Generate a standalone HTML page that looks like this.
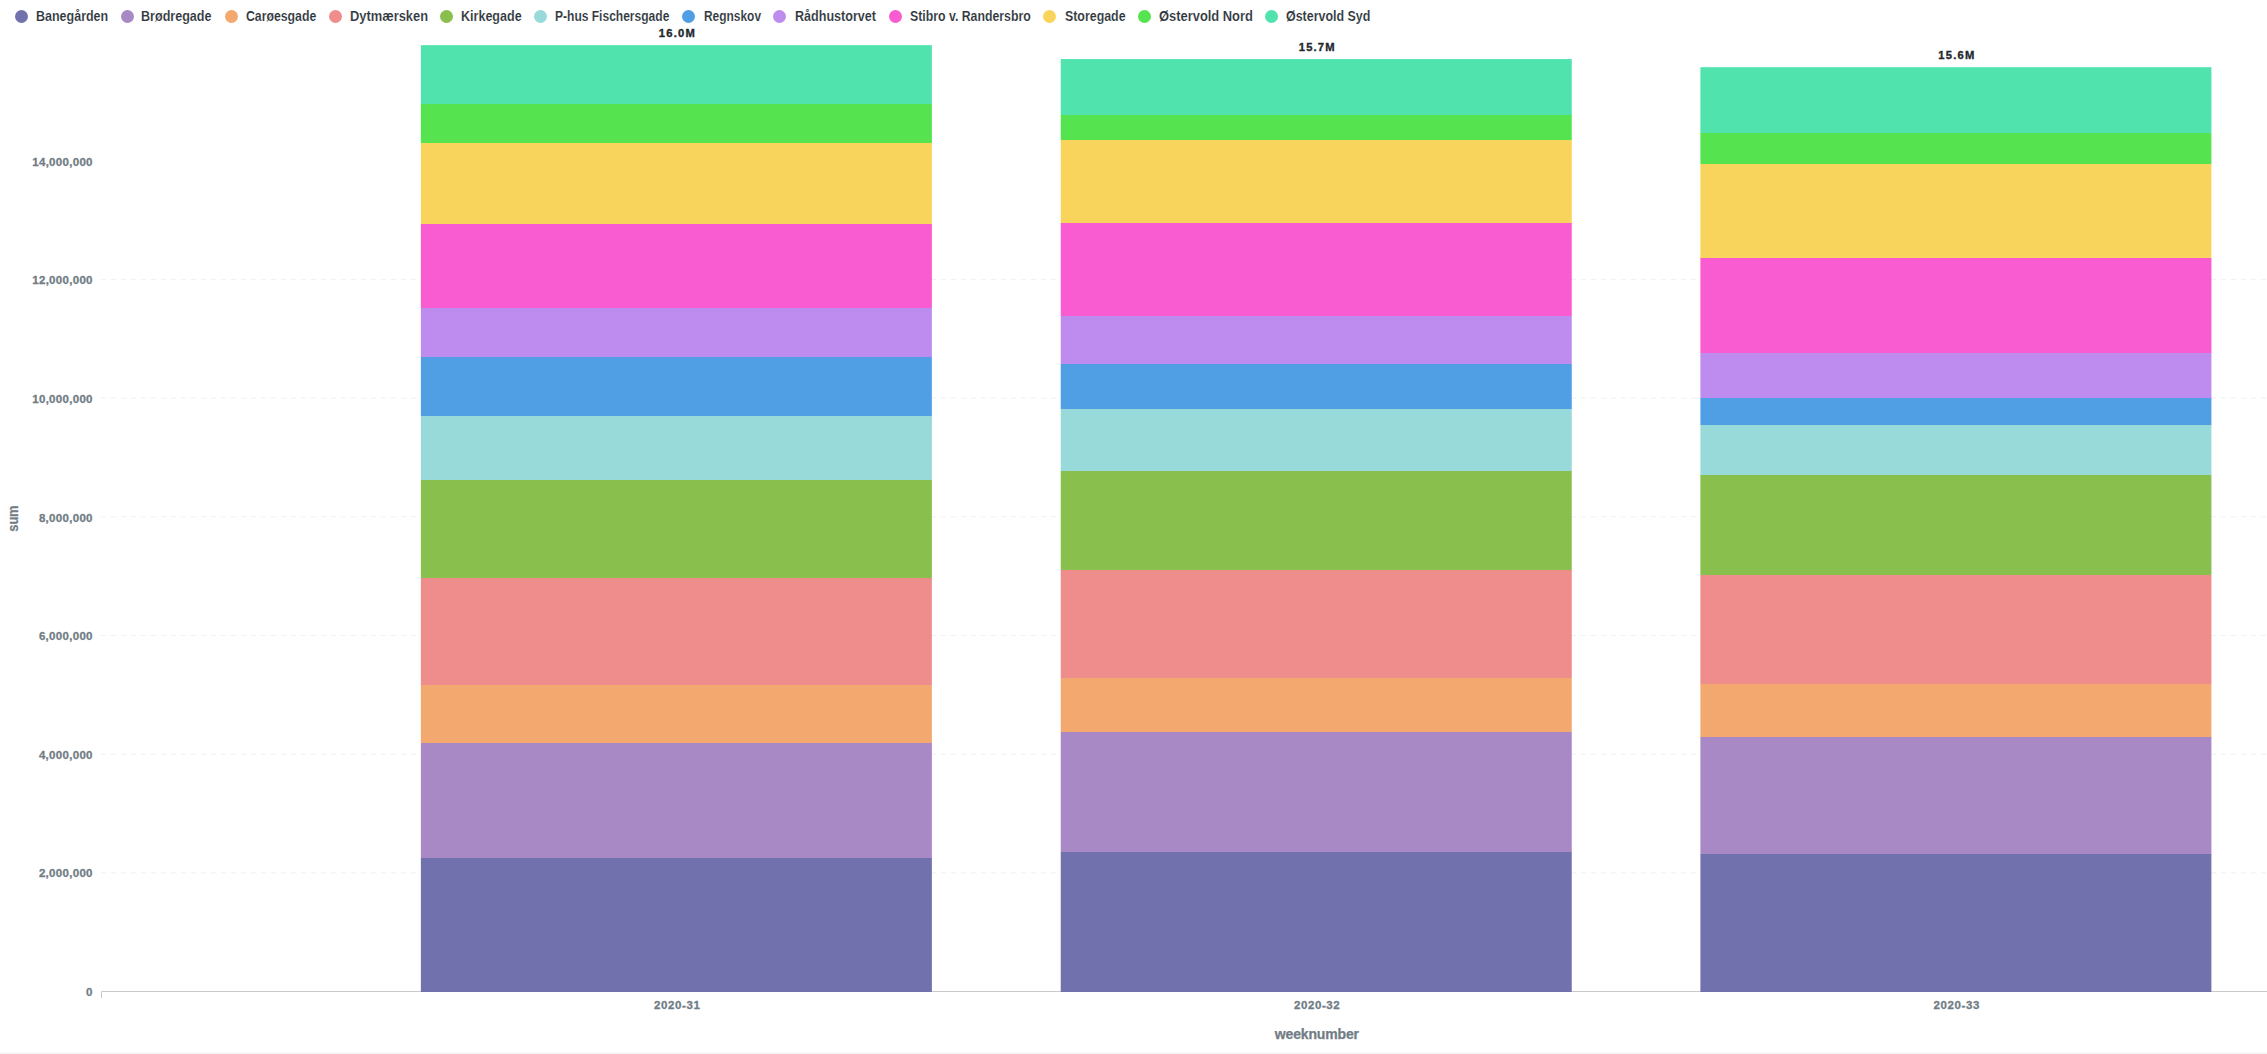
<!DOCTYPE html>
<html lang="da"><head><meta charset="utf-8"><title>sum by weeknumber</title>
<style>
html,body{margin:0;padding:0;background:#fff;}
body{width:2267px;height:1054px;overflow:hidden;position:relative;font-family:"Liberation Sans",sans-serif;}
#legend{position:absolute;left:0;top:0;width:2267px;height:32px;}
.dot{position:absolute;top:10px;width:13px;height:13px;border-radius:50%;}
.lbl{position:absolute;top:7px;height:18px;line-height:18px;font-size:14px;font-weight:bold;color:#2e353b;white-space:nowrap;-webkit-text-stroke:0.12px #fff;transform-origin:0 50%;}
svg{position:absolute;left:0;top:0;}
svg text{font-family:"Liberation Sans",sans-serif;font-weight:bold;}
.tick{font-size:11.5px;fill:#717c85;letter-spacing:0.3px;stroke:#717c85;stroke-width:0.3px;}
.axl{font-size:14px;fill:#717c85;letter-spacing:-0.15px;stroke:#717c85;stroke-width:0.25px;}
.val{font-size:11.2px;fill:#22282e;letter-spacing:1.2px;stroke:#22282e;stroke-width:0.35px;}
.bottomline{position:absolute;left:0;top:1052px;width:2267px;height:2px;background:linear-gradient(#fdfdfd,#f1f1f1);}
</style></head><body>

<div id="legend">
<span class="dot" style="left:14.8px;background:#7172AD"></span><span class="lbl" id="l0" style="left:36.40px;transform:scaleX(0.8923);">Banegården</span>
<span class="dot" style="left:121.0px;background:#A989C5"></span><span class="lbl" id="l1" style="left:141.40px;transform:scaleX(0.8974);">Brødregade</span>
<span class="dot" style="left:225.1px;background:#F2A86F"></span><span class="lbl" id="l2" style="left:245.50px;transform:scaleX(0.8761);">Carøesgade</span>
<span class="dot" style="left:329.2px;background:#EF8C8C"></span><span class="lbl" id="l3" style="left:349.50px;transform:scaleX(0.9198);">Dytmærsken</span>
<span class="dot" style="left:439.7px;background:#88BF4D"></span><span class="lbl" id="l4" style="left:460.70px;transform:scaleX(0.8953);">Kirkegade</span>
<span class="dot" style="left:534.2px;background:#98D9D9"></span><span class="lbl" id="l5" style="left:555.20px;transform:scaleX(0.8593);">P-hus Fischersgade</span>
<span class="dot" style="left:681.7px;background:#509EE3"></span><span class="lbl" id="l6" style="left:703.80px;transform:scaleX(0.8522);">Regnskov</span>
<span class="dot" style="left:772.8px;background:#BE8CEF"></span><span class="lbl" id="l7" style="left:795.00px;transform:scaleX(0.8976);">Rådhustorvet</span>
<span class="dot" style="left:888.8px;background:#F95CD0"></span><span class="lbl" id="l8" style="left:910.30px;transform:scaleX(0.8789);">Stibro v. Randersbro</span>
<span class="dot" style="left:1043.0px;background:#F9D45C"></span><span class="lbl" id="l9" style="left:1064.60px;transform:scaleX(0.8839);">Storegade</span>
<span class="dot" style="left:1137.8px;background:#55E350"></span><span class="lbl" id="l10" style="left:1158.90px;transform:scaleX(0.9215);">Østervold Nord</span>
<span class="dot" style="left:1265.0px;background:#50E3AE"></span><span class="lbl" id="l11" style="left:1286.00px;transform:scaleX(0.8880);">Østervold Syd</span>
</div>
<svg width="2267" height="1054" viewBox="0 0 2267 1054">
<g stroke="#74838f" stroke-opacity="0.12" stroke-width="1" stroke-dasharray="5,5" fill="none">
<line x1="101" x2="2267" y1="872.81" y2="872.81"/>
<line x1="101" x2="2267" y1="754.12" y2="754.12"/>
<line x1="101" x2="2267" y1="635.43" y2="635.43"/>
<line x1="101" x2="2267" y1="516.74" y2="516.74"/>
<line x1="101" x2="2267" y1="398.05" y2="398.05"/>
<line x1="101" x2="2267" y1="279.36" y2="279.36"/>
</g>
<path d="M101.5,998 V991.5 H2267" fill="none" stroke="#c8c9cb" stroke-width="1"/>
<rect x="420.87" y="45.15" width="511" height="59.15" fill="#50E3AE"/>
<rect x="420.87" y="104" width="511" height="39.30" fill="#55E350"/>
<rect x="420.87" y="143" width="511" height="81.30" fill="#F9D45C"/>
<rect x="420.87" y="224" width="511" height="84.30" fill="#F95CD0"/>
<rect x="420.87" y="308" width="511" height="49.30" fill="#BE8CEF"/>
<rect x="420.87" y="357" width="511" height="59.30" fill="#509EE3"/>
<rect x="420.87" y="416" width="511" height="64.30" fill="#98D9D9"/>
<rect x="420.87" y="480" width="511" height="98.30" fill="#88BF4D"/>
<rect x="420.87" y="578" width="511" height="107.30" fill="#EF8C8C"/>
<rect x="420.87" y="685" width="511" height="58.30" fill="#F2A86F"/>
<rect x="420.87" y="743" width="511" height="115.30" fill="#A989C5"/>
<rect x="420.87" y="858" width="511" height="134.00" fill="#7172AD"/>
<rect x="1060.75" y="59.05" width="511" height="56.25" fill="#50E3AE"/>
<rect x="1060.75" y="115" width="511" height="25.30" fill="#55E350"/>
<rect x="1060.75" y="140" width="511" height="83.30" fill="#F9D45C"/>
<rect x="1060.75" y="223" width="511" height="93.30" fill="#F95CD0"/>
<rect x="1060.75" y="316" width="511" height="48.30" fill="#BE8CEF"/>
<rect x="1060.75" y="364" width="511" height="45.30" fill="#509EE3"/>
<rect x="1060.75" y="409" width="511" height="62.30" fill="#98D9D9"/>
<rect x="1060.75" y="471" width="511" height="99.30" fill="#88BF4D"/>
<rect x="1060.75" y="570" width="511" height="108.30" fill="#EF8C8C"/>
<rect x="1060.75" y="678" width="511" height="54.30" fill="#F2A86F"/>
<rect x="1060.75" y="732" width="511" height="120.30" fill="#A989C5"/>
<rect x="1060.75" y="852" width="511" height="140.00" fill="#7172AD"/>
<rect x="1700.4" y="67.2" width="511" height="66.10" fill="#50E3AE"/>
<rect x="1700.4" y="133" width="511" height="31.30" fill="#55E350"/>
<rect x="1700.4" y="164" width="511" height="94.30" fill="#F9D45C"/>
<rect x="1700.4" y="258" width="511" height="95.30" fill="#F95CD0"/>
<rect x="1700.4" y="353" width="511" height="45.30" fill="#BE8CEF"/>
<rect x="1700.4" y="398" width="511" height="27.30" fill="#509EE3"/>
<rect x="1700.4" y="425" width="511" height="50.30" fill="#98D9D9"/>
<rect x="1700.4" y="475" width="511" height="100.30" fill="#88BF4D"/>
<rect x="1700.4" y="575" width="511" height="109.30" fill="#EF8C8C"/>
<rect x="1700.4" y="684" width="511" height="53.30" fill="#F2A86F"/>
<rect x="1700.4" y="737" width="511" height="117.30" fill="#A989C5"/>
<rect x="1700.4" y="854" width="511" height="138.00" fill="#7172AD"/>
<text class="tick" x="92.8" y="996" text-anchor="end">0</text>
<text class="tick" x="92.8" y="877" text-anchor="end">2,000,000</text>
<text class="tick" x="92.8" y="759" text-anchor="end">4,000,000</text>
<text class="tick" x="92.8" y="640" text-anchor="end">6,000,000</text>
<text class="tick" x="92.8" y="522" text-anchor="end">8,000,000</text>
<text class="tick" x="92.8" y="403" text-anchor="end">10,000,000</text>
<text class="tick" x="92.8" y="284" text-anchor="end">12,000,000</text>
<text class="tick" x="92.8" y="166" text-anchor="end">14,000,000</text>
<text class="tick" x="677.27" y="1009.3" text-anchor="middle" style="letter-spacing:0.6px">2020-31</text>
<text class="val" x="677.37" y="37.05" text-anchor="middle">16.0M</text>
<text class="tick" x="1317.15" y="1009.3" text-anchor="middle" style="letter-spacing:0.6px">2020-32</text>
<text class="val" x="1317.25" y="50.95" text-anchor="middle">15.7M</text>
<text class="tick" x="1956.80" y="1009.3" text-anchor="middle" style="letter-spacing:0.6px">2020-33</text>
<text class="val" x="1956.90" y="59.10" text-anchor="middle">15.6M</text>
<text class="axl" x="1316.8" y="1038.8" text-anchor="middle">weeknumber</text>
<text class="axl" transform="translate(18,518.6) rotate(-90) scale(0.86,1)" text-anchor="middle" style="font-size:15px">sum</text>
</svg>
<div class="bottomline"></div>
</body></html>
